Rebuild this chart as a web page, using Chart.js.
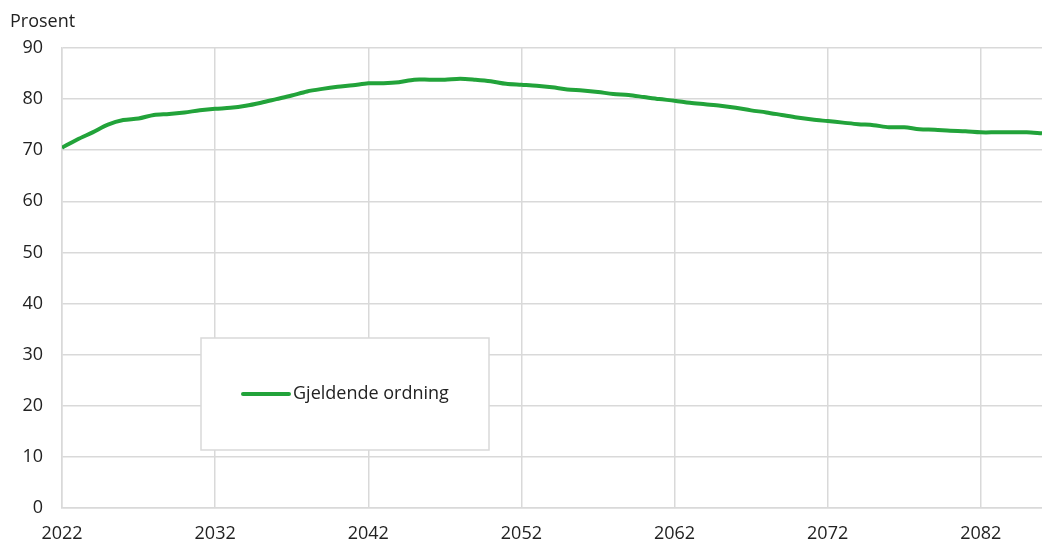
<!DOCTYPE html>
<html>
<head>
<meta charset="utf-8">
<script src="https://cdn.jsdelivr.net/npm/chart.js@4"></script>
<style>
  html, body { margin: 0; padding: 0; background: #fff; }
  #wrap { width: 1042px; height: 543px; position: relative; }
</style>
</head>
<body>
<div id="wrap"><canvas id="chart"></canvas></div>
<script>
/* ---------- DATA ---------- */
const years = [];
for (let y = 2022; y <= 2086; y++) years.push(y);

const gjeldende = [
  70.5, 72.1, 73.5, 75.0, 75.9, 76.2, 76.9, 77.1, 77.4, 77.8,
  78.1, 78.3, 78.7, 79.3, 80.0, 80.7, 81.5, 82.0, 82.4, 82.7,
  83.1, 83.1, 83.3, 83.8, 83.8, 83.8, 84.0, 83.8, 83.5, 83.0,
  82.8, 82.6, 82.3, 81.9, 81.7, 81.4, 81.0, 80.8, 80.4, 80.0,
  79.7, 79.3, 79.0, 78.7, 78.3, 77.8, 77.4, 76.9, 76.4, 76.0,
  75.7, 75.4, 75.1, 74.9, 74.5, 74.5, 74.1, 74.0, 73.8, 73.7,
  73.5, 73.5, 73.5, 73.5, 73.3
];

const xTicks = [2022, 2032, 2042, 2052, 2062, 2072, 2082];
const seriesLabel = "Gjeldende ordning";
const yTitle = "Prosent";

const FONT = "'Open Sans', sans-serif";
const TEXT = "#222";
const GRID = "#d9d9d9";
const GREEN = "#22a33a";

/* ---------- PLUGINS ---------- */
const titleAndLegend = {
  id: "titleAndLegend",
  afterDatasetsDraw(chart) {
    const ctx = chart.ctx;
    ctx.save();
    // y axis title
    ctx.font = "18px " + FONT;
    ctx.fillStyle = TEXT;
    ctx.textAlign = "left";
    ctx.textBaseline = "alphabetic";
    ctx.fillText(yTitle, 10, 27);

    // legend box
    const bx = 201, by = 338, bw = 288, bh = 112;
    ctx.fillStyle = "#fff";
    ctx.fillRect(bx, by, bw, bh);
    ctx.strokeStyle = GRID;
    ctx.lineWidth = 1.5;
    ctx.strokeRect(bx, by, bw, bh);

    const ly = 394;
    ctx.strokeStyle = chart.data.datasets[0].borderColor;
    ctx.lineWidth = 4;
    ctx.lineCap = "round";
    ctx.beginPath();
    ctx.moveTo(243, ly);
    ctx.lineTo(289, ly);
    ctx.stroke();

    ctx.fillStyle = TEXT;
    ctx.textBaseline = "middle";
    ctx.fillText(chart.data.datasets[0].label, 293, ly);
    ctx.restore();
  }
};

/* ---------- CHART ---------- */
new Chart(document.getElementById("chart"), {
  type: "line",
  data: {
    labels: years,
    datasets: [{
      label: seriesLabel,
      data: years.map((y, i) => ({ x: y, y: gjeldende[i] })),
      borderColor: GREEN,
      borderWidth: 4,
      pointRadius: 0,
      tension: 0.3,
      fill: false
    }]
  },
  options: {
    responsive: true,
    maintainAspectRatio: false,
    animation: false,
    layout: { padding: { top: 48, right: 0, left: 0, bottom: 0 } },
    plugins: {
      legend: { display: false },
      tooltip: { enabled: false }
    },
    scales: {
      x: {
        type: "linear",
        min: 2022,
        max: 2086,
        afterBuildTicks: scale => {
          scale.ticks = xTicks.map(v => ({ value: v }));
        },
        afterFit: scale => { scale.height = 35; },
        grid: { color: GRID, lineWidth: 1.5, drawTicks: false },
        border: { color: GRID, width: 1.5 },
        ticks: {
          autoSkip: false,
          maxRotation: 0,
          padding: 15,
          color: TEXT,
          font: { family: FONT, size: 18 },
          callback: v => String(v)
        }
      },
      y: {
        min: 0,
        max: 90,
        afterFit: scale => { scale.width = 62; },
        grid: { color: GRID, lineWidth: 1.5, drawTicks: false },
        border: { color: GRID, width: 1.5 },
        ticks: {
          stepSize: 10,
          padding: 19,
          color: TEXT,
          font: { family: FONT, size: 18 }
        }
      }
    }
  },
  plugins: [titleAndLegend]
});
</script>
</body>
</html>
